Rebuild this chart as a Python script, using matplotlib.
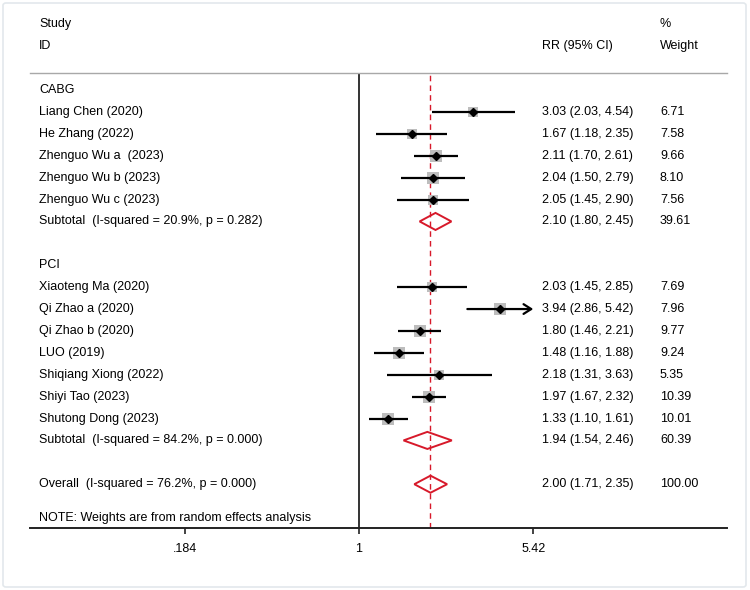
import numpy as np
import matplotlib
matplotlib.use("Agg")
import matplotlib.pyplot as plt
from matplotlib.patches import Polygon, FancyBboxPatch
from matplotlib import transforms

plt.rcParams['font.family'] = ['Liberation Sans', 'DejaVu Sans']

############################################
cabg_names = ["Liang Chen (2020)", "He Zhang (2022)", "Zhenguo Wu a  (2023)",
              "Zhenguo Wu b (2023)", "Zhenguo Wu c (2023)"]
cabg_rr = [3.03, 1.67, 2.11, 2.04, 2.05]
cabg_lo = [2.03, 1.18, 1.70, 1.50, 1.45]
cabg_hi = [4.54, 2.35, 2.61, 2.79, 2.90]
cabg_w = [6.71, 7.58, 9.66, 8.10, 7.56]

pci_names = ["Xiaoteng Ma (2020)", "Qi Zhao a (2020)", "Qi Zhao b (2020)", "LUO (2019)",
             "Shiqiang Xiong (2022)", "Shiyi Tao (2023)", "Shutong Dong (2023)"]
pci_rr = [2.03, 3.94, 1.80, 1.48, 2.18, 1.97, 1.33]
pci_lo = [1.45, 2.86, 1.46, 1.16, 1.31, 1.67, 1.10]
pci_hi = [2.85, 5.42, 2.21, 1.88, 3.63, 2.32, 1.61]
pci_w = [7.69, 7.96, 9.77, 9.24, 5.35, 10.39, 10.01]

sub_labels = ["Subtotal  (I-squared = 20.9%, p = 0.282)",
              "Subtotal  (I-squared = 84.2%, p = 0.000)",
              "Overall  (I-squared = 76.2%, p = 0.000)"]
sub_rr = [2.10, 1.94, 2.00]
sub_lo = [1.80, 1.54, 1.71]
sub_hi = [2.45, 2.46, 2.35]
sub_w = [39.61, 60.39, 100.00]

xticks = [0.184, 1, 5.42]
xticklabels = [".184", "1", "5.42"]
############################################

fig = plt.figure(figsize=(7.5, 5.9), dpi=100)
fig.patch.set_facecolor('white')
fig.patches.append(FancyBboxPatch((3/750, 3/590), 743/750, 584/590,
                                  boxstyle="round,pad=0,rounding_size=0.004",
                                  transform=fig.transFigure, fill=False,
                                  edgecolor='#e3e8ec', lw=1.2))

ax = fig.add_axes([30/750, 1-528/590, 697/750, 455/590])
ax.set_xscale('log')
ax.set_xlim(0.0411, 35.5)
ax.set_ylim(20.0, -0.78)

red = '#d7192a'
ax.axvline(1, color='#333333', lw=1.4, zorder=2)
ax.axvline(sub_rr[2], color=red, lw=1.0, ls=(0, (4, 3)), zorder=1)

tr = transforms.blended_transform_factory(fig.transFigure, ax.transData)
fs = 9
xc1, xc2, xc3 = 39/750, 542/750, 660/750

def txt(x, y, s):
    ax.text(x, y, s, transform=tr, fontsize=fs, va='center', ha='left', clip_on=False)

def study_row(y, name, rr, lo, hi, w):
    side = 3.9*np.sqrt(w)*0.72
    ax.scatter([rr], [y], marker='s', s=side**2, color='#bdbdbd', lw=0, zorder=3)
    if hi >= xticks[-1]:
        ax.annotate('', xy=(hi, y), xytext=(lo, y),
                    arrowprops=dict(arrowstyle='->,head_length=0.55,head_width=0.35',
                                    color='black', lw=1.6, shrinkA=0, shrinkB=0),
                    zorder=4)
    else:
        ax.plot([lo, hi], [y, y], color='black', lw=1.6, solid_capstyle='butt', zorder=4)
    ax.plot([rr], [y], marker='D', ms=4, color='black', zorder=5)
    txt(xc1, y, name)
    txt(xc2, y, f"{rr:.2f} ({lo:.2f}, {hi:.2f})")
    txt(xc3, y, f"{w:.2f}")

def diamond_row(y, label, rr, lo, hi, w):
    h = 0.39
    ax.add_patch(Polygon([(lo, y), (rr, y-h), (hi, y), (rr, y+h)], closed=True,
                         fill=False, edgecolor=red, lw=1.4, zorder=4))
    txt(xc1, y, label)
    txt(xc2, y, f"{rr:.2f} ({lo:.2f}, {hi:.2f})")
    txt(xc3, y, f"{w:.2f}")

# headers
txt(xc1, -3.02, "Study")
txt(xc1, -2.01, "ID")
txt(xc2, -2.01, "RR (95% CI)")
txt(xc3, -3.02, "%")
txt(xc3, -2.01, "Weight")

y = 0
txt(xc1, y, "CABG")
for i in range(len(cabg_names)):
    y += 1
    study_row(y, cabg_names[i], cabg_rr[i], cabg_lo[i], cabg_hi[i], cabg_w[i])
y += 1
diamond_row(y, sub_labels[0], sub_rr[0], sub_lo[0], sub_hi[0], sub_w[0])
y += 2
txt(xc1, y, "PCI")
for i in range(len(pci_names)):
    y += 1
    study_row(y, pci_names[i], pci_rr[i], pci_lo[i], pci_hi[i], pci_w[i])
y += 1
diamond_row(y, sub_labels[1], sub_rr[1], sub_lo[1], sub_hi[1], sub_w[1])
y += 2
diamond_row(y, sub_labels[2], sub_rr[2], sub_lo[2], sub_hi[2], sub_w[2])
txt(xc1, 19.55, "NOTE: Weights are from random effects analysis")

# axes styling
for s in ['left', 'right']:
    ax.spines[s].set_visible(False)
ax.spines['top'].set_color('#a8a8a8')
ax.spines['top'].set_linewidth(1.0)
ax.spines['bottom'].set_color('#222222')
ax.spines['bottom'].set_linewidth(1.4)
ax.set_yticks([])
ax.xaxis.set_minor_locator(matplotlib.ticker.NullLocator())
ax.set_xticks(xticks)
ax.set_xticklabels(xticklabels, fontsize=fs)
ax.tick_params(axis='x', length=4, width=1.2, pad=7, color='#222222')
ax.patch.set_alpha(0)

plt.savefig('out.png', dpi=100)
